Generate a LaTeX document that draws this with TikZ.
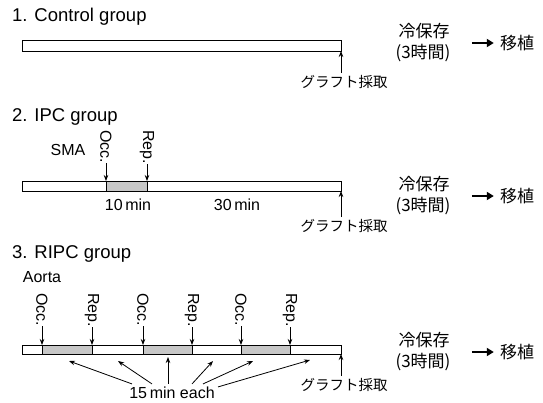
\documentclass[tikz,border=0pt]{standalone}
\usepackage{fontspec}
\setmainfont{Liberation Sans}
\newfontfamily\jpfont{Noto Sans CJK JP}
\usetikzlibrary{arrows.meta}
\tikzset{
	ttl/.style={anchor=base west, inner sep=0pt, font=\fontsize{18.5}{20}\selectfont},
	lbl/.style={inner sep=0pt, font=\fontsize{16}{18}\selectfont},
	vlbl/.style={lbl, rotate=-90, anchor=west},
	jp/.style={inner sep=0pt, font=\jpfont\fontsize{17}{19}\selectfont},
	graft/.style={inner sep=2pt, font=\jpfont\fontsize{14.5}{16}\selectfont},
	arr/.style={-{Stealth[length=6pt,width=4.5pt]}, line width=0.8pt},
	fat/.style={-{Triangle[length=7pt,width=8pt]}, line width=2.6pt},
	bar/.style={line width=0.9pt},
	occ/.style={fill=black!22}
}
% cold storage and transplant column, #1 = prefix, #2 = y of the arrow
\def\coldstore#1#2{
	\node[jp] (#1cold) at (424, #2-12) {冷保存};
	\node[jp] (#1hrs) at (423, #2+10) {(3時間)};
	\node[jp] (#1tx) at (517, #2) {移植};
	\draw[fat] ([xshift=-28pt]#1tx.west) -- ([xshift=-6pt]#1tx.west);
}

\begin{document}
\begin{tikzpicture}[x=1pt, y=-1pt]
			%%%%% START %%%%%
			\useasboundingbox (0, 0) rectangle (543, 402);
			
			%%%%% 1. Control group %%%%%
			\node[ttl] (title1) at (12, 21.5) {1. Control group};
			\draw[bar] (22, 40) rectangle (341, 51);
			
			\node[graft] (graft1) at (344, 82) {グラフト採取};
			\coordinate (end1) at (341, 51);
			\draw[arr] (graft1.north -| end1) -- (end1);
			\coldstore{c}{43}
			
			%%%%% 2. IPC group %%%%%
			\node[ttl] (title2) at (12, 121.5) {2. IPC group};
			\node[lbl] (sma) at (68, 150) {SMA};
			
			\draw[occ] (106, 181) rectangle (147, 191);
			\draw[bar] (22, 181) rectangle (341, 191);
			\draw[bar] (106, 181) -- (106, 191);
			\draw[bar] (147, 181) -- (147, 191);
			
			\node[vlbl] (occ2) at (106, 130) {Occ.};
			\node[vlbl] (rep2) at (147, 130) {Rep.};
			\coordinate (occ2bar) at (106, 181);
			\coordinate (rep2bar) at (147, 181);
			\draw[arr] (occ2.east) -- (occ2bar);
			\draw[arr] (rep2.east) -- (rep2bar);
			
			\node[lbl] (ten) at (128, 205) {10\,min};
			\node[lbl] (thirty) at (237, 205) {30\,min};
			
			\node[graft] (graft2) at (344, 226) {グラフト採取};
			\coordinate (end2) at (341, 191);
			\draw[arr] (graft2.north -| end2) -- (end2);
			\coldstore{i}{196}
			
			%%%%% 3. RIPC group %%%%%
			\node[ttl] (title3) at (12, 258.5) {3. RIPC group};
			\node[lbl] (aorta) at (42, 277) {Aorta};
			
			\draw[occ] (42, 345) rectangle (92, 354);
			\draw[occ] (143, 345) rectangle (192, 354);
			\draw[occ] (241, 345) rectangle (290, 354);
			\draw[bar] (22, 345) rectangle (341, 354);
			\draw[bar] (42, 345) -- (42, 354);
			\draw[bar] (92, 345) -- (92, 354);
			\draw[bar] (143, 345) -- (143, 354);
			\draw[bar] (192, 345) -- (192, 354);
			\draw[bar] (241, 345) -- (241, 354);
			\draw[bar] (290, 345) -- (290, 354);
			
			\node[vlbl] (occa) at (42, 293) {Occ.};
			\node[vlbl] (repa) at (92, 293) {Rep.};
			\node[vlbl] (occb) at (143, 293) {Occ.};
			\node[vlbl] (repb) at (192, 293) {Rep.};
			\node[vlbl] (occc) at (241, 293) {Occ.};
			\node[vlbl] (repc) at (290, 293) {Rep.};
			\coordinate (occabar) at (42, 345);
			\coordinate (repabar) at (92, 345);
			\coordinate (occbbar) at (143, 345);
			\coordinate (repbbar) at (192, 345);
			\coordinate (occcbar) at (241, 345);
			\coordinate (repcbar) at (290, 345);
			\draw[arr] (occa.east) -- (occabar);
			\draw[arr] (repa.east) -- (repabar);
			\draw[arr] (occb.east) -- (occbbar);
			\draw[arr] (repb.east) -- (repbbar);
			\draw[arr] (occc.east) -- (occcbar);
			\draw[arr] (repc.east) -- (repcbar);
			
			\node[lbl] (each) at (172, 393) {15\,min each};
			\coordinate (seg1) at (69, 361);
			\coordinate (seg2) at (118, 361);
			\coordinate (seg3) at (168, 357);
			\coordinate (seg4) at (213, 361);
			\coordinate (seg5) at (253, 361);
			\coordinate (seg6) at (310, 360);
			\draw[arr] ([xshift=-40pt, yshift=3pt]each.north) -- (seg1);
			\draw[arr] ([xshift=-20pt, yshift=3pt]each.north) -- (seg2);
			\draw[arr] ([xshift=-4pt, yshift=3pt]each.north) -- (seg3);
			\draw[arr] ([xshift=20pt, yshift=3pt]each.north) -- (seg4);
			\draw[arr] ([xshift=31pt, yshift=3pt]each.north) -- (seg5);
			\draw[arr] ([xshift=46pt, yshift=0pt]each.north) -- (seg6);
			
			\node[graft] (graft3) at (344, 385) {グラフト採取};
			\coordinate (end3) at (341, 354);
			\draw[arr] (graft3.north -| end3) -- (end3);
			\coldstore{r}{352}
			%%%%% END %%%%%
\end{tikzpicture}
\end{document}
